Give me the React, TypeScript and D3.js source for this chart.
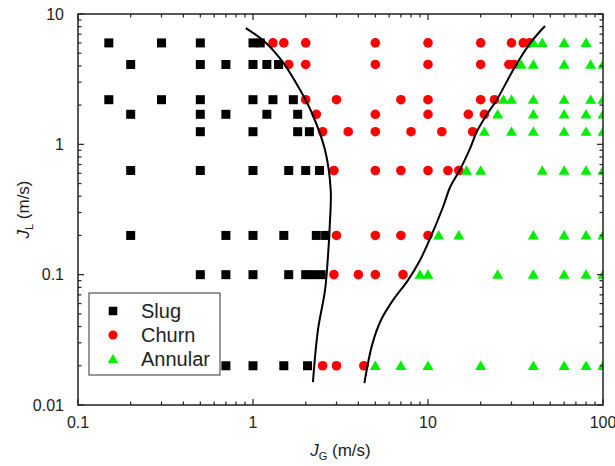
import React from 'react';
import * as d3 from 'd3';

// flow regime map data: [JG, JL] in m/s
const slugPoints: [number, number][] = [
  [0.15, 6], [0.3, 6], [0.5, 6], [1.0, 6], [1.1, 6],
  [0.2, 4.1], [0.5, 4.1], [0.7, 4.1], [1.0, 4.1], [1.2, 4.1], [1.4, 4.1],
  [0.15, 2.2], [0.3, 2.2], [0.5, 2.2], [1.0, 2.2], [1.3, 2.2], [1.7, 2.2],
  [0.2, 1.7], [0.5, 1.7], [0.7, 1.7], [1.2, 1.7], [1.8, 1.7],
  [0.5, 1.25], [1.0, 1.25], [1.8, 1.25], [2.1, 1.25],
  [0.2, 0.63], [0.5, 0.63], [1.0, 0.63], [1.6, 0.63], [2.0, 0.63], [2.4, 0.63],
  [0.2, 0.2], [0.7, 0.2], [1.0, 0.2], [1.5, 0.2], [2.3, 0.2], [2.6, 0.2],
  [0.5, 0.1], [0.7, 0.1], [1.0, 0.1], [1.6, 0.1], [2.0, 0.1], [2.2, 0.1], [2.45, 0.1],
  [0.7, 0.02], [1.0, 0.02], [1.5, 0.02], [2.05, 0.02],
];

const churnPoints: [number, number][] = [
  [1.3, 6], [1.5, 6], [2, 6], [5, 6], [10, 6], [20, 6], [30, 6], [35, 6], [38, 6],
  [1.6, 4.1], [2, 4.1], [5, 4.1], [10, 4.1], [20, 4.1], [29, 4.1], [31, 4.1],
  [2, 2.2], [3, 2.2], [7, 2.2], [10, 2.2], [20, 2.2], [24, 2.2],
  [2.3, 1.7], [5, 1.7], [10, 1.7], [17, 1.7], [21, 1.7],
  [2.5, 1.25], [3.5, 1.25], [5, 1.25], [8, 1.25], [12, 1.25], [18, 1.25],
  [2.9, 0.63], [5, 0.63], [7, 0.63], [10, 0.63], [13, 0.63], [15, 0.63],
  [3, 0.2], [5, 0.2], [7, 0.2], [10, 0.2],
  [2.9, 0.1], [4, 0.1], [5, 0.1], [7.2, 0.1],
  [2.5, 0.02], [3, 0.02], [4.3, 0.02],
];

const annularPoints: [number, number][] = [
  [40, 6], [45, 6], [60, 6], [80, 6],
  [34, 4.1], [40, 4.1], [60, 4.1], [85, 4.1], [100, 4.1],
  [27, 2.2], [30, 2.2], [40, 2.2], [60, 2.2], [85, 2.2], [100, 2.2],
  [25, 1.7], [40, 1.7], [60, 1.7], [80, 1.7], [100, 1.7],
  [21, 1.25], [30, 1.25], [40, 1.25], [60, 1.25], [80, 1.25], [100, 1.25],
  [16.6, 0.63], [20, 0.63], [45, 0.63], [60, 0.63], [80, 0.63], [100, 0.63],
  [11.5, 0.2], [15, 0.2], [40, 0.2], [60, 0.2], [80, 0.2], [100, 0.2],
  [9, 0.1], [10, 0.1], [25, 0.1], [40, 0.1], [60, 0.1], [80, 0.1], [100, 0.1],
  [5, 0.02], [7, 0.02], [10, 0.02], [20, 0.02], [40, 0.02], [60, 0.02], [80, 0.02], [100, 0.02],
];

// transition boundaries
const slugChurnLine: [number, number][] = [
  [0.91, 7.8], [1.17, 6.1], [1.48, 4.28], [1.86, 2.61], [2.17, 1.74], [2.58, 0.904],
  [2.78, 0.446], [2.75, 0.249], [2.68, 0.1365], [2.58, 0.0762], [2.35, 0.0376], [2.2, 0.015],
];

const churnAnnularLine: [number, number][] = [
  [46.6, 8.09], [38.3, 5.96], [31.4, 3.94], [24.7, 2.19], [21.6, 1.68], [19.0, 1.25],
  [17.4, 0.931], [15.2, 0.635], [13.4, 0.473], [12.2, 0.332], [10.3, 0.191], [9.0, 0.129],
  [7.69, 0.0909], [6.31, 0.0638], [5.39, 0.0449], [4.79, 0.0288], [4.33, 0.0147],
];

const xDomain = [0.1, 100];
const yDomain = [0.01, 10];
const legendItems = ['Slug', 'Churn', 'Annular'];

const W = 615;
const H = 466;
const margin = { left: 78, right: 12, top: 14, bottom: 61 };
const FONT = 'Liberation Sans, Arial, sans-serif';

const Marker = ({ kind, x, y, s = 1 }: { kind: number; x: number; y: number; s?: number }) => {
  if (kind === 0) {
    const a = 9 * s;
    return <rect x={x - a / 2} y={y - a / 2} width={a} height={a} fill="#000" />;
  }
  if (kind === 1) return <circle cx={x} cy={y} r={4.8 * s} fill="#ff0000" />;
  const sym = d3.symbol().type(d3.symbolTriangle).size(52 * s * s)();
  return <path d={sym || ''} transform={`translate(${x},${y + 1})`} fill="#00ee00" />;
};

const App: React.FC = () => {
  const x = d3.scaleLog().domain(xDomain).range([margin.left, W - margin.right]);
  const y = d3.scaleLog().domain(yDomain).range([H - margin.bottom, margin.top]);
  const x0 = margin.left, x1 = W - margin.right, y0 = H - margin.bottom, y1 = margin.top;

  const isMajor = (v: number) => Math.abs(Math.log10(v) - Math.round(Math.log10(v))) < 1e-6;
  const xTicks = x.ticks();
  const yTicks = y.ticks();

  const line = d3.line<[number, number]>()
    .x(d => x(d[0]))
    .y(d => y(d[1]))
    .curve(d3.curveCatmullRom.alpha(0.5));

  const series = [slugPoints, churnPoints, annularPoints];
  const axisColor = '#222';

  return (
    <svg width={W} height={H} style={{ position: 'absolute', left: 0, top: 0, background: '#fff' }} fontFamily={FONT}>
      <defs>
        <clipPath id="plotClip">
          <rect x={x0} y={y1} width={x1 - x0} height={y0 - y1} />
        </clipPath>
      </defs>

      <g clipPath="url(#plotClip)">
        {series.map((pts, k) => (
          <g key={k}>
            {pts.map((d, i) => <Marker key={i} kind={k} x={x(d[0])} y={y(d[1])} />)}
          </g>
        ))}
        <path d={line(slugChurnLine) || ''} fill="none" stroke="#000" strokeWidth={2} />
        <path d={line(churnAnnularLine) || ''} fill="none" stroke="#000" strokeWidth={2} />
      </g>

      {/* frame */}
      <rect x={x0} y={y1} width={x1 - x0} height={y0 - y1} fill="none" stroke={axisColor} strokeWidth={1.5} />

      {/* x ticks (bottom and top, inward) */}
      {xTicks.map((t, i) => {
        const len = isMajor(t) ? 6 : 3.5;
        return (
          <g key={'xt' + i} stroke={axisColor} strokeWidth={1.2}>
            <line x1={x(t)} x2={x(t)} y1={y0} y2={y0 - len} />
            <line x1={x(t)} x2={x(t)} y1={y1} y2={y1 + len} />
          </g>
        );
      })}
      {yTicks.map((t, i) => {
        const len = isMajor(t) ? 6 : 3.5;
        return (
          <g key={'yt' + i} stroke={axisColor} strokeWidth={1.2}>
            <line x1={x0} x2={x0 + len} y1={y(t)} y2={y(t)} />
            <line x1={x1} x2={x1 - len} y1={y(t)} y2={y(t)} />
          </g>
        );
      })}

      {/* tick labels */}
      {xTicks.filter(isMajor).map((t, i) => (
        <text key={'xl' + i} x={x(t)} y={y0 + 23} textAnchor="middle" fontSize={16} fill="#222">
          {d3.format('~g')(t)}
        </text>
      ))}
      {yTicks.filter(isMajor).map((t, i) => (
        <text key={'yl' + i} x={x0 - 14} y={y(t)} dy="0.35em" textAnchor="end" fontSize={16} fill="#222">
          {d3.format('~g')(t)}
        </text>
      ))}

      {/* axis titles */}
      <text x={(x0 + x1) / 2} y={456} textAnchor="middle" fontSize={17} fill="#222">
        <tspan fontStyle="italic">J</tspan>
        <tspan fontSize={11} dy={4}>G</tspan>
        <tspan dy={-4}> (m/s)</tspan>
      </text>
      <text transform={`translate(29,${(y0 + y1) / 2}) rotate(-90)`} textAnchor="middle" fontSize={17} fill="#222">
        <tspan fontStyle="italic">J</tspan>
        <tspan fontSize={11} dy={4}>L</tspan>
        <tspan dy={-4}> (m/s)</tspan>
      </text>

      {/* legend */}
      <g>
        <rect x={89} y={293} width={131} height={82} fill="#fff" stroke="#333" strokeWidth={1} />
        {legendItems.map((name, i) => (
          <g key={name}>
            <Marker kind={i} x={113} y={311 + i * 24} s={0.95} />
            <text x={141} y={311 + i * 24} dy="0.35em" fontSize={20} fill="#222">{name}</text>
          </g>
        ))}
      </g>
    </svg>
  );
};

export default App;
